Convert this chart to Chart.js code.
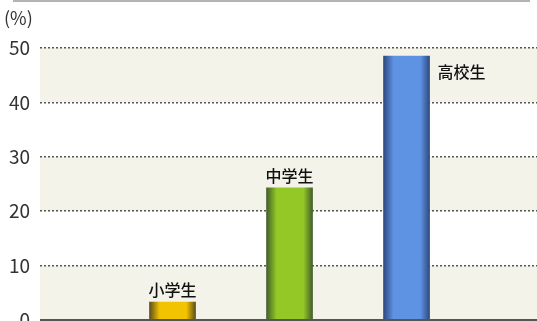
<!DOCTYPE html>
<html>
<head>
<meta charset="utf-8">
<script src="https://cdn.jsdelivr.net/npm/chart.js@4/dist/chart.umd.min.js"></script>
<style>
  html, body { margin: 0; padding: 0; background: #fff; }
  #wrap { width: 537px; height: 321px; }
</style>
</head>
<body>
<div id="wrap"><canvas id="chart_area"></canvas></div>
<script>
const categories = ['小学生', '中学生', '高校生'];
const values = [3.3, 24.3, 48.5];
const tickValues = [0, 10, 20, 30, 40, 50];
const unitLabel = '(%)';

// bar shading: edge, center
const barColors = [
  ['#5e4e1c', '#f2c300'],
  ['#43602a', '#94c826'],
  ['#2e4a80', '#5e93e4']
];

const font = "'Noto Sans CJK JP', 'Liberation Sans', sans-serif";

function barFill(ctx) {
  const chart = ctx.chart;
  const c = barColors[ctx.dataIndex] || barColors[0];
  if (!chart.chartArea) return c[1];
  const x = chart.scales.x.getPixelForValue(ctx.dataIndex + 1);
  const g = chart.ctx.createLinearGradient(x - 23, 0, x + 23, 0);
  g.addColorStop(0, c[0]);
  g.addColorStop(0.22, c[1]);
  g.addColorStop(0.8, c[1]);
  g.addColorStop(1, c[0]);
  return g;
}

const decor = {
  id: 'decor',
  beforeDraw(chart) {
    const { ctx, chartArea, scales } = chart;
    const y = scales.y;
    ctx.save();
    // alternating bands
    for (let i = 0; i < tickValues.length - 1; i++) {
      const top = y.getPixelForValue(tickValues[i + 1]);
      const bot = y.getPixelForValue(tickValues[i]);
      ctx.fillStyle = i % 2 === 0 ? '#f4f3ea' : '#ffffff';
      ctx.fillRect(chartArea.left, top, chartArea.right - chartArea.left, bot - top);
    }
    // top rule
    ctx.strokeStyle = '#9a9a9a';
    ctx.lineWidth = 1.5;
    ctx.beginPath();
    ctx.moveTo(13, 1);
    ctx.lineTo(530, 1);
    ctx.stroke();
    // unit label
    ctx.fillStyle = '#333';
    ctx.font = '18px ' + font;
    ctx.textBaseline = 'middle';
    ctx.fillText(unitLabel, 4, 18);
    ctx.restore();
  },
  afterDatasetsDraw(chart) {
    const { ctx, chartArea } = chart;
    const meta = chart.getDatasetMeta(0);
    ctx.save();
    // bottom axis line
    ctx.strokeStyle = '#555';
    ctx.lineWidth = 2;
    ctx.beginPath();
    ctx.moveTo(chartArea.left, chartArea.bottom);
    ctx.lineTo(chartArea.right, chartArea.bottom);
    ctx.stroke();
    // labels above bars
    ctx.fillStyle = '#111';
    ctx.font = '500 16px ' + font;
    ctx.textBaseline = 'bottom';
    meta.data.forEach((bar, i) => {
      if (i === 2) {
        ctx.textAlign = 'left';
        ctx.fillText(categories[i], bar.x + 31, bar.y + 24);
      } else {
        ctx.textAlign = 'center';
        ctx.fillText(categories[i], bar.x, bar.y - 4);
      }
    });
    ctx.restore();
  }
};

new Chart(document.getElementById('chart_area'), {
  type: 'bar',
  data: {
    datasets: [{
      data: values.map((v, i) => ({ x: i + 1, y: v })),
      backgroundColor: barFill,
      borderWidth: 0,
      barThickness: 46
    }]
  },
  options: {
    responsive: true,
    maintainAspectRatio: false,
    animation: false,
    layout: { padding: { top: 48, bottom: 1, left: 0, right: 0 } },
    plugins: { legend: { display: false }, tooltip: { enabled: false } },
    scales: {
      x: {
        type: 'linear',
        offset: false,
        min: -0.1325,
        max: 4.115,
        display: false
      },
      y: {
        min: 0,
        max: 50,
        afterFit: s => { s.width = 40; s.paddingTop = 0; s.paddingBottom = 0; },
        afterBuildTicks: s => { s.ticks = tickValues.map(v => ({ value: v })); },
        border: { display: false, dash: [2, 2] },
        grid: {
          drawTicks: false,
          color: ctx => ctx.tick && ctx.tick.value === 0 ? 'rgba(0,0,0,0)' : '#555',
          lineWidth: 1.5
        },
        ticks: {
          padding: 10,
          color: '#333',
          font: { size: 19, family: font }
        }
      }
    }
  },
  plugins: [decor]
});
</script>
</body>
</html>
